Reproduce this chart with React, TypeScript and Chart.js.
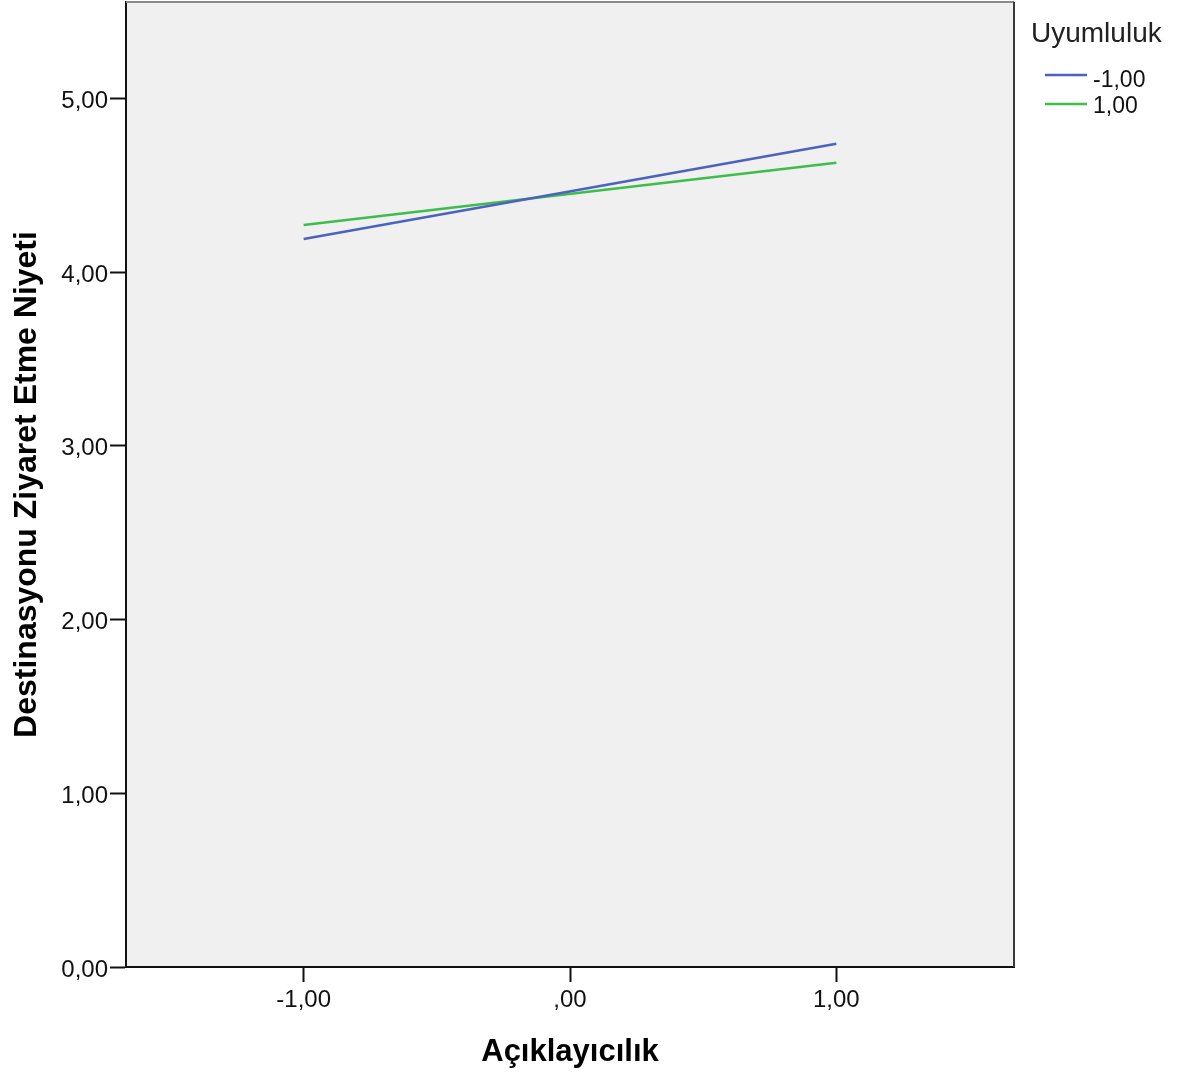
import React, { useEffect, useRef } from "react";
import { Chart, registerables } from "chart.js";

Chart.register(...registerables);

const xValues = [-1, 1];
const seriesLabels = ["-1,00", "1,00"];
const seriesLow = [4.19, 4.738];
const seriesHigh = [4.27, 4.629];
const seriesColors = ["#4c62c0", "#3cbf4a"];
const xTickValues = [-1, 0, 1];
const xTickLabels = ["-1,00", ",00", "1,00"];
const yTickValues = [0, 1, 2, 3, 4, 5];
const yTickLabels = ["0,00", "1,00", "2,00", "3,00", "4,00", "5,00"];
const xTitle = "Açıklayıcılık";
const yTitle = "Destinasyonu Ziyaret Etme Niyeti";
const legendTitle = "Uyumluluk";

const FONT = "'Liberation Sans', Arial, sans-serif";

export default function App() {
  const ref = useRef<HTMLCanvasElement | null>(null);

  useEffect(() => {
    document.body.style.margin = "0";
    const canvas = ref.current!;
    const decor = {
      id: "decor",
      beforeDraw(chart: any) {
        const { ctx, chartArea: a } = chart;
        ctx.save();
        ctx.fillStyle = "#f0f0f0";
        ctx.fillRect(a.left, a.top, a.right - a.left, a.bottom - a.top);
        ctx.restore();
      },
      afterDraw(chart: any) {
        const { ctx, chartArea: a } = chart;
        ctx.save();
        ctx.lineWidth = 2;
        ctx.strokeStyle = "#8a8a8a";
        ctx.beginPath();
        ctx.moveTo(a.left, a.top);
        ctx.lineTo(a.right, a.top);
        ctx.stroke();
        ctx.strokeStyle = "#3a3a3a";
        ctx.beginPath();
        ctx.moveTo(a.right, a.top);
        ctx.lineTo(a.right, a.bottom);
        ctx.stroke();
        ctx.fillStyle = "#000";
        ctx.font = `bold 31px ${FONT}`;
        ctx.textAlign = "center";
        ctx.textBaseline = "alphabetic";
        ctx.fillText(xTitle, (a.left + a.right) / 2, 1061);
        ctx.save();
        ctx.translate(36, 484.5);
        ctx.rotate(-Math.PI / 2);
        ctx.font = `bold 32px ${FONT}`;
        ctx.fillText(yTitle, 0, 0);
        ctx.restore();
        ctx.textAlign = "left";
        ctx.fillStyle = "#222";
        ctx.font = `28px ${FONT}`;
        ctx.fillText(legendTitle, 1031, 42);
        const ds = chart.data.datasets;
        const lineYs = [75, 104];
        const baseYs = [87, 113];
        ds.forEach((d: any, i: number) => {
          ctx.strokeStyle = d.borderColor;
          ctx.lineWidth = 2.5;
          ctx.beginPath();
          ctx.moveTo(1045, lineYs[i]);
          ctx.lineTo(1087, lineYs[i]);
          ctx.stroke();
          ctx.fillStyle = "#111";
          ctx.font = `23px ${FONT}`;
          ctx.fillText(d.label, 1093, baseYs[i]);
        });
        ctx.restore();
      },
    };

    const chart = new Chart(canvas, {
      type: "line",
      data: {
        datasets: [
          {
            label: seriesLabels[0],
            data: xValues.map((x, i) => ({ x, y: seriesLow[i] })),
            borderColor: seriesColors[0],
            borderWidth: 2.5,
            pointRadius: 0,
            fill: false,
          },
          {
            label: seriesLabels[1],
            data: xValues.map((x, i) => ({ x, y: seriesHigh[i] })),
            borderColor: seriesColors[1],
            borderWidth: 2.5,
            pointRadius: 0,
            fill: false,
          },
        ],
      },
      options: {
        responsive: false,
        animation: false,
        layout: { padding: { left: 0, top: 2, right: 184, bottom: 0 } },
        plugins: { legend: { display: false }, tooltip: { enabled: false } },
        scales: {
          x: {
            type: "linear",
            min: -1.667,
            max: 1.667,
            afterFit(s: any) {
              s.height = 107;
              s.paddingLeft = 0;
              s.paddingRight = 0;
            },
            afterBuildTicks(s: any) {
              s.ticks = xTickValues.map((v) => ({ value: v }));
            },
            ticks: {
              font: { family: FONT, size: 24 },
              color: "#111",
              padding: 4,
              maxRotation: 0,
              callback: (v: any) => {
                const i = xTickValues.indexOf(Number(v));
                return i >= 0 ? xTickLabels[i] : "";
              },
            },
            grid: {
              drawOnChartArea: false,
              drawTicks: true,
              tickLength: 15,
              tickColor: "#111",
              tickWidth: 2,
            },
            border: { color: "#111", width: 2 },
          },
          y: {
            type: "linear",
            min: 0,
            max: 5.554,
            afterFit(s: any) {
              s.width = 126;
              s.paddingTop = 0;
              s.paddingBottom = 0;
            },
            afterBuildTicks(s: any) {
              s.ticks = yTickValues.map((v) => ({ value: v }));
            },
            ticks: {
              font: { family: FONT, size: 24 },
              color: "#111",
              padding: 2,
              labelOffset: 3,
              callback: (v: any) => {
                const i = yTickValues.indexOf(Number(v));
                return i >= 0 ? yTickLabels[i] : "";
              },
            },
            grid: {
              drawOnChartArea: false,
              drawTicks: true,
              tickLength: 16,
              tickColor: "#111",
              tickWidth: 2,
            },
            border: { color: "#111", width: 2 },
          },
        },
      },
      plugins: [decor],
    });
    return () => chart.destroy();
  }, []);

  return <canvas ref={ref} width={1198} height={1074} style={{ display: "block" }} />;
}
